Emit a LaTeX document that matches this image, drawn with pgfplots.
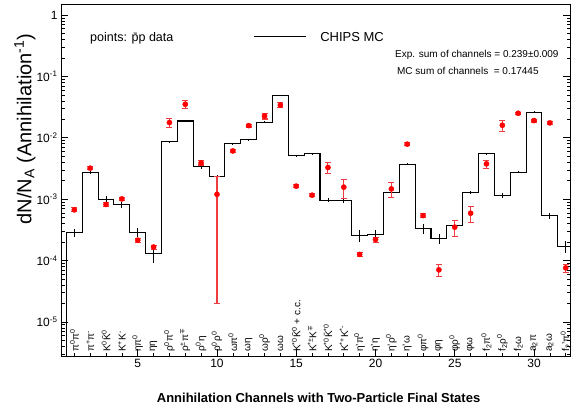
\documentclass[border=0pt]{standalone}
\usepackage{fontspec}
\setmainfont{Liberation Sans}
\newfontfamily\dejavu{DejaVu Sans}
\usepackage{pgfplots}
\usepackage{pgfplotstable}
\pgfplotsset{compat=1.18}
\newcommand{\up}[1]{\textsuperscript{#1}}
\newcommand{\dn}[1]{\textsubscript{#1}}
\newcommand{\mpsym}{{\dejavu ∓}}
\definecolor{errred}{RGB}{240,60,60}

% CHIPS MC histogram (bin centre, value, error); rows 0 and 33 close the steps
\pgfplotstableread{
x y e
0 1e-7 0
1 2.83e-4 4.2e-5
2 2.72e-3 1.5e-4
3 1.00e-3 1.1e-4
4 8.07e-4 9e-5
5 2.90e-4 5e-5
6 1.32e-4 4e-5
7 8.57e-3 3.2e-4
8 1.88e-2 7e-4
9 3.36e-3 2.5e-4
10 2.37e-3 9e-5
11 7.96e-3 3e-4
12 9.25e-3 3.5e-4
13 1.80e-2 6.8e-4
14 4.89e-2 1e-3
15 5.07e-3 1.9e-4
16 5.47e-3 2e-4
17 9.6e-4 7e-5
18 9.4e-4 7e-5
19 2.56e-4 5.6e-5
20 2.68e-4 5e-5
21 1.29e-3 5e-5
22 3.70e-3 1.4e-4
23 3.33e-4 5.7e-5
24 2.29e-4 4.6e-5
25 3.77e-4 5e-5
26 1.29e-3 7e-5
27 5.47e-3 2e-4
28 1.15e-3 9e-5
29 2.75e-3 1e-4
30 2.61e-2 1e-3
31 5.42e-4 6e-5
32 1.72e-4 3.8e-5
33 1e-7 0
}\mctable

% pbar p data
\pgfplotstableread{
x y e
1 6.7e-4 0.5e-4
2 3.2e-3 0.2e-3
3 8.2e-4 0.5e-4
4 1.01e-3 0.6e-4
5 2.15e-4 0.15e-4
6 1.66e-4 0.12e-4
7 1.77e-2 0.3e-2
8 3.52e-2 0.5e-2
9 3.9e-3 0.3e-3
10 1.2e-3 1.18e-3
11 6.1e-3 0.3e-3
12 1.58e-2 0.08e-2
13 2.27e-2 0.25e-2
14 3.4e-2 0.3e-2
15 1.63e-3 0.1e-3
16 1.16e-3 0.07e-3
17 3.28e-3 0.65e-3
18 1.57e-3 0.55e-3
19 1.26e-4 0.1e-4
20 2.2e-4 0.2e-4
21 1.47e-3 0.42e-3
22 7.87e-3 0.5e-3
23 5.4e-4 0.4e-4
24 7.06e-5 1.6e-5
25 3.5e-4 1.0e-4
26 5.9e-4 1.7e-4
27 3.76e-3 0.57e-3
28 1.6e-2 0.32e-2
29 2.51e-2 0.1e-2
30 1.91e-2 0.1e-2
31 1.75e-2 0.08e-2
32 7.6e-5 1.1e-5
}\datatable

\newcommand{\ch}[2]{\node[rotate=90,anchor=west,inner sep=0pt,font=\fontsize{10}{11}\selectfont] at (axis cs:#1,3.25e-6) {#2};}

\begin{document}
\begin{tikzpicture}
\useasboundingbox (-61pt,-60pt) rectangle (514pt,356pt);
\begin{axis}[
  at={(0pt,0pt)}, anchor=south west,
  scale only axis, width=509pt, height=352pt,
  ymode=log,
  xmin=0.16, xmax=32.27, ymin=2.79e-6, ymax=1.51,
  axis line style={line width=0.9pt},
  xtick={5,10,...,30}, minor xtick={1,...,32},
  xtick pos=left, ytick pos=both,
  ytick={1e-5,1e-4,1e-3,1e-2,1e-1,1},
  yticklabels={10\up{-5},10\up{-4},10\up{-3},10\up{-2},10\up{-1},1},
  minor ytick={3e-6,4e-6,5e-6,6e-6,7e-6,8e-6,9e-6,
    2e-5,3e-5,4e-5,5e-5,6e-5,7e-5,8e-5,9e-5,
    2e-4,3e-4,4e-4,5e-4,6e-4,7e-4,8e-4,9e-4,
    2e-3,3e-3,4e-3,5e-3,6e-3,7e-3,8e-3,9e-3,
    2e-2,3e-2,4e-2,5e-2,6e-2,7e-2,8e-2,9e-2,
    2e-1,3e-1,4e-1,5e-1,6e-1,7e-1,8e-1,9e-1},
  major tick length=7pt, minor tick length=3.5pt,
  every tick/.style={black, line width=0.6pt},
  /pgf/number format/assume math mode=true,
  tick label style={font=\fontsize{12}{14}\selectfont},
  xlabel={Annihilation Channels with Two-Particle Final States},
  xlabel style={at={(axis description cs:0.506,-0.12)}, anchor=center, font=\fontsize{13}{15}\selectfont\bfseries},
  ylabel={dN/N\dn{A} (Annihilation\up{-1})},
  ylabel style={at={(axis description cs:-0.071,0.645)}, anchor=center, font=\fontsize{20}{22}\selectfont},
  clip=true,
]
% MC histogram
\addplot[black, line width=1.1pt, const plot mark mid, mark=none] table[x=x,y=y] {\mctable};
\addplot[draw=none, mark=none, forget plot,
  error bars/.cd, y dir=both, y explicit, error mark=none,
  error bar style={black, line width=0.8pt}]
  table[x=x,y=y,y error=e] {\mctable};
% data
\addplot[only marks, mark=*, mark size=2.6pt, color=red, fill=red,
  error bars/.cd, y dir=both, y explicit,
  error bar style={errred, line width=1.1pt},
  error mark options={errred, mark size=3pt, line width=1.1pt, rotate=90}]
  table[x=x,y=y,y error=e] {\datatable};

% legend-like texts
\node[anchor=west, inner sep=0pt, font=\fontsize{12.5}{14}\selectfont] at (axis description cs:0.057,0.903) {points: \={p}p data};
\draw[black, line width=1.1pt] (axis description cs:0.379,0.907) -- (axis description cs:0.481,0.907);
\node[anchor=west, inner sep=0pt, font=\fontsize{13}{15}\selectfont] at (axis description cs:0.509,0.906) {CHIPS MC};
\node[anchor=west, inner sep=0pt, font=\fontsize{10}{12}\selectfont] at (axis description cs:0.656,0.855) {Exp. sum of channels = 0.239±0.009};
\node[anchor=west, inner sep=0pt, font=\fontsize{10}{12}\selectfont] at (axis description cs:0.660,0.81) {MC sum of channels \ = 0.17445};

% channel names
\ch{1}{π\up{0}π\up{0}}
\ch{2}{π\up{+}π\up{-}}
\ch{3}{K\up{0}\={K}\up{0}}
\ch{4}{K\up{+}K\up{-}}
\ch{5}{ηπ\up{0}}
\ch{6}{ηη}
\ch{7}{ρ\up{0}π\up{0}}
\ch{8}{ρ\up{±}π\up{\mpsym}}
\ch{9}{ρ\up{0}η}
\ch{10}{ρ\up{0}ρ\up{0}}
\ch{11}{ωπ\up{0}}
\ch{12}{ωη}
\ch{13}{ωρ\up{0}}
\ch{14}{ωω}
\ch{15}{K\up{*0}\={K}\up{0} + c.c.}
\ch{16}{K\up{*±}K\up{\mpsym}}
\ch{17}{K\up{*0}\={K}\up{*0}}
\ch{18}{K\up{*+}K\up{*-}}
\ch{19}{η'π\up{0}}
\ch{20}{η'η}
\ch{21}{η'ρ\up{0}}
\ch{22}{η'ω}
\ch{23}{φπ\up{0}}
\ch{24}{φη}
\ch{25}{φρ\up{0}}
\ch{26}{φω}
\ch{27}{f\dn{2}π\up{0}}
\ch{28}{f\dn{2}ρ\up{0}}
\ch{29}{f\dn{2}ω}
\ch{30}{a\dn{2}π}
\ch{31}{a\dn{2}ω}
\ch{32}{f\dn{2}'π\up{0}}
\end{axis}
\end{tikzpicture}
\end{document}
